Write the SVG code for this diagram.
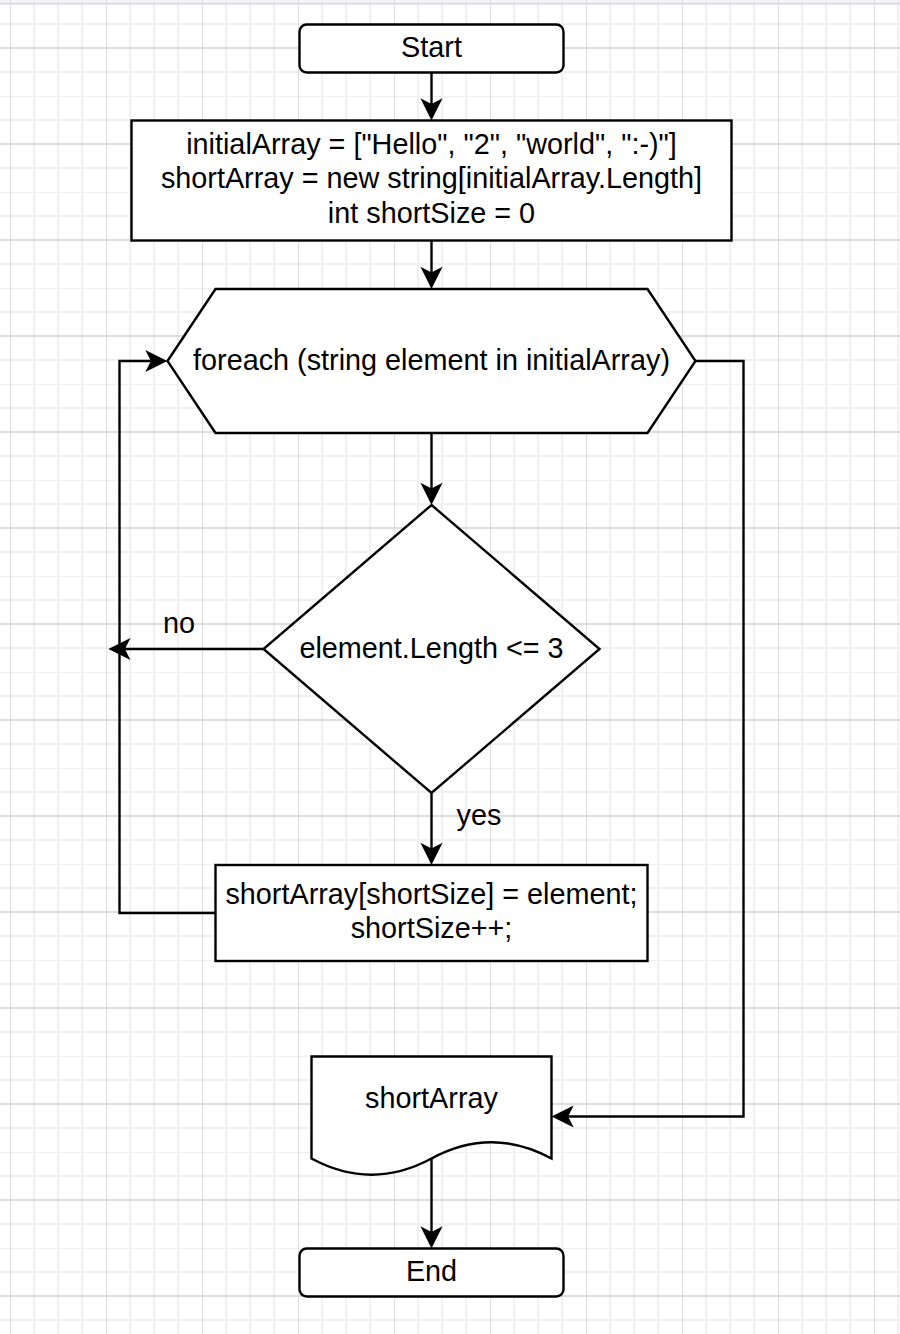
<svg xmlns="http://www.w3.org/2000/svg" width="900" height="1334" viewBox="0 0 900 1334">
  <style>
    .shape { fill: #ffffff; stroke: #000000; stroke-width: 2.4; }
    .edge { fill: none; stroke: #000000; stroke-width: 2.4; }
    .label { font-family: "Liberation Sans", Arial, Helvetica, sans-serif; font-size: 28.8px; fill: #000000; text-anchor: middle; }
  </style>
  <defs>
    <pattern id="grid" patternUnits="userSpaceOnUse" x="10" y="0" width="96" height="96">
      <path d="M24,0 V96 M48,0 V96 M72,0 V96 M0,24 H96 M0,0 H96 M0,72 H96" stroke="#f0f0f0" stroke-width="2" fill="none"/>
      <path d="M0,0 V96 M0,48 H96" stroke="#d3d3d3" stroke-width="1.5" fill="none"/>
    </pattern>
    <marker id="arrow" markerUnits="userSpaceOnUse" viewBox="-10 -15 30 30" markerWidth="30" markerHeight="30" refX="0" refY="0" orient="auto" overflow="visible">
      <path d="M12.6,0 L-4.2,-8.4 L0,0 L-4.2,8.4 Z" fill="#000000" stroke="#000000" stroke-width="2.4"/>
    </marker>
  </defs>

  <rect x="0" y="0" width="900" height="1334" fill="#ffffff"/>
  <rect x="0" y="0" width="900" height="1334" fill="url(#grid)"/>
  <rect x="0" y="2" width="900" height="3" fill="#e3e3e7"/>

  <g id="connectors">
    <path class="edge" d="M431.5,72.5 V105.2" marker-end="url(#arrow)"/>
    <path class="edge" d="M431.5,240.5 V273.7" marker-end="url(#arrow)"/>
    <path class="edge" d="M431.5,433 V489.7" marker-end="url(#arrow)"/>
    <path class="edge" d="M263.5,649 H123.6" marker-end="url(#arrow)"/>
    <path class="edge" d="M431.5,793 V849.7" marker-end="url(#arrow)"/>
    <path class="edge" d="M215.5,913 H119.5 V361 H152.2" marker-end="url(#arrow)"/>
    <path class="edge" d="M695.5,361 H743.5 V1116.5 H566.8" marker-end="url(#arrow)"/>
    <path class="edge" d="M431.5,1158.5 V1233.2" marker-end="url(#arrow)"/>
    <text class="label" x="179" y="633">no</text>
    <text class="label" x="479" y="825">yes</text>
  </g>

  <g id="start">
    <rect class="shape" x="299.5" y="24.5" width="264" height="48" rx="7.2" ry="7.2"/>
    <text class="label" x="431.5" y="57">Start</text>
  </g>

  <g id="init">
    <rect class="shape" x="131.5" y="120.5" width="600" height="120"/>
    <text class="label" x="431.5" y="153.7">initialArray = ["Hello", "2", "world", ":-)"]</text>
    <text class="label" x="431.5" y="188.3">shortArray = new string[initialArray.Length]</text>
    <text class="label" x="431.5" y="222.8">int shortSize = 0</text>
  </g>

  <g id="loop">
    <polygon class="shape" points="167.5,361 215.5,289 647.5,289 695.5,361 647.5,433 215.5,433"/>
    <text class="label" x="431.5" y="370">foreach (string element in initialArray)</text>
  </g>

  <g id="condition">
    <polygon class="shape" points="431.5,505 599.5,649 431.5,793 263.5,649"/>
    <text class="label" x="431.5" y="658">element.Length &lt;= 3</text>
  </g>

  <g id="assign">
    <rect class="shape" x="215.5" y="865" width="432" height="96"/>
    <text class="label" x="431.5" y="903.5">shortArray[shortSize] = element;</text>
    <text class="label" x="431.5" y="938">shortSize++;</text>
  </g>

  <g id="output">
    <path class="shape" d="M311.5,1056.5 H551.5 V1158.5 Q491.5,1126.1 431.5,1158.5 Q371.5,1190.9 311.5,1158.5 Z"/>
    <text class="label" x="431.5" y="1107.5">shortArray</text>
  </g>

  <g id="end">
    <rect class="shape" x="299.5" y="1248.5" width="264" height="48" rx="7.2" ry="7.2"/>
    <text class="label" x="431.5" y="1281">End</text>
  </g>
</svg>
